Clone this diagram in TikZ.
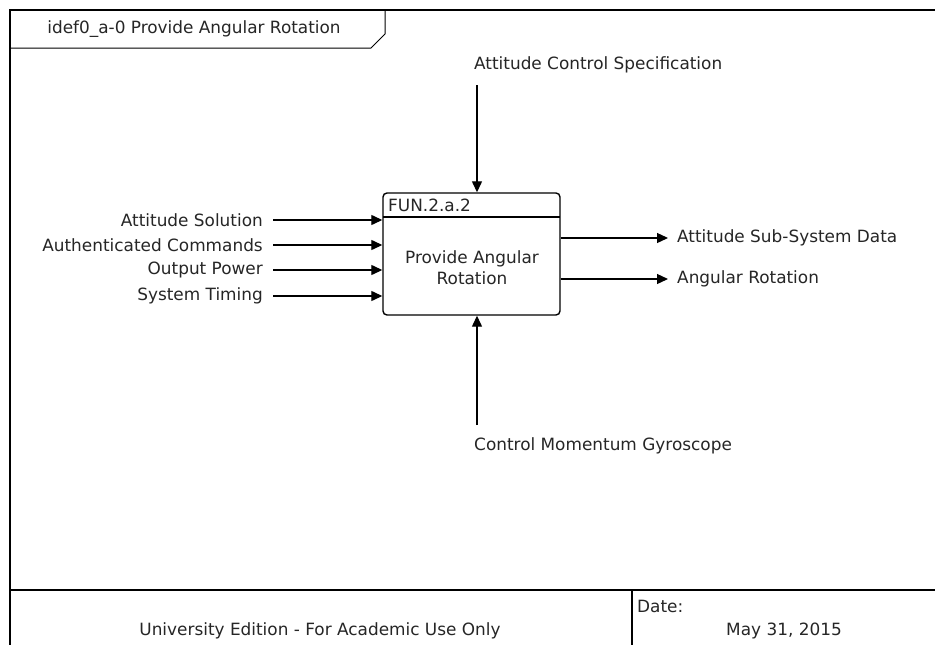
\documentclass[tikz,border=0pt]{standalone}
\usepackage{fontspec}
\setmainfont{DejaVu Sans}
\usetikzlibrary{arrows.meta}
\begin{document}
\begin{tikzpicture}[x=1pt,y=-1pt,
  every node/.style={font=\fontsize{16.9}{21}\selectfont, text=black!85, inner sep=0pt},
  frame/.style={line width=2pt, black},
  thin/.style={line width=1pt, black},
  arr/.style={line width=1.3pt, -{Triangle[length=11pt,width=10pt]}},
  fbox/.style={draw, line width=1.4pt, rounded corners=4pt, minimum width=177pt, minimum height=122pt}]
\useasboundingbox (0,0) rectangle (935,645);
\fill[white] (0,0) rectangle (935,645);
% frame
\draw[frame] (10,645) -- (10,10) -- (935,10);
\draw[frame] (10,590) -- (935,590);
\draw[frame] (632,590) -- (632,645);
% title tab
\draw[thin] (10,48) -- (371,48) -- (385,34) -- (385,10);
\node (title) at (194,29) {idef0\_a-0 Provide Angular Rotation};
% function box
\node[fbox] (fn) at (471.5,254) {};
\draw[line width=1.2pt] (383,217) -- (560,217);
\node[anchor=west] (fid) at (388,205) {FUN.2.a.2};
\node[align=center] (fname) at (472,268) {Provide Angular\\Rotation};
% inputs
\node[anchor=east] (in1) at (263,220) {Attitude Solution};
\node[anchor=east] (in2) at (263,245) {Authenticated Commands};
\node[anchor=east] (in3) at (263,270) {Output Power};
\node[anchor=east] (in4) at (263,296) {System Timing};
\foreach \i in {1,2,3,4}
  \draw[arr] ([xshift=10pt]in\i.east) -- (fn.west |- in\i.east);
% outputs
\node[anchor=west,inner xsep=9pt] (out1) at (668,238) {Attitude Sub-System Data};
\node[anchor=west,inner xsep=9pt] (out2) at (668,279) {Angular Rotation};
\draw[arr] (fn.east |- out1.west) -- (out1.west);
\draw[arr] (fn.east |- out2.west) -- (out2.west);
% control
\node[anchor=west] (ctl) at (474,65) {Attitude Control Specification};
\coordinate (c0) at (477,85);
\draw[arr] (c0) -- (c0 |- fn.north);
% mechanism
\node[anchor=west] (mech) at (474,446) {Control Momentum Gyroscope};
\coordinate (m0) at (477,425);
\draw[arr] (m0) -- (m0 |- fn.south);
% footer
\node (ue) at (320,631) {University Edition - For Academic Use Only};
\node[anchor=west] (dl) at (637,606) {Date:};
\node (date) at (784,631) {May 31, 2015};
\end{tikzpicture}
\end{document}
